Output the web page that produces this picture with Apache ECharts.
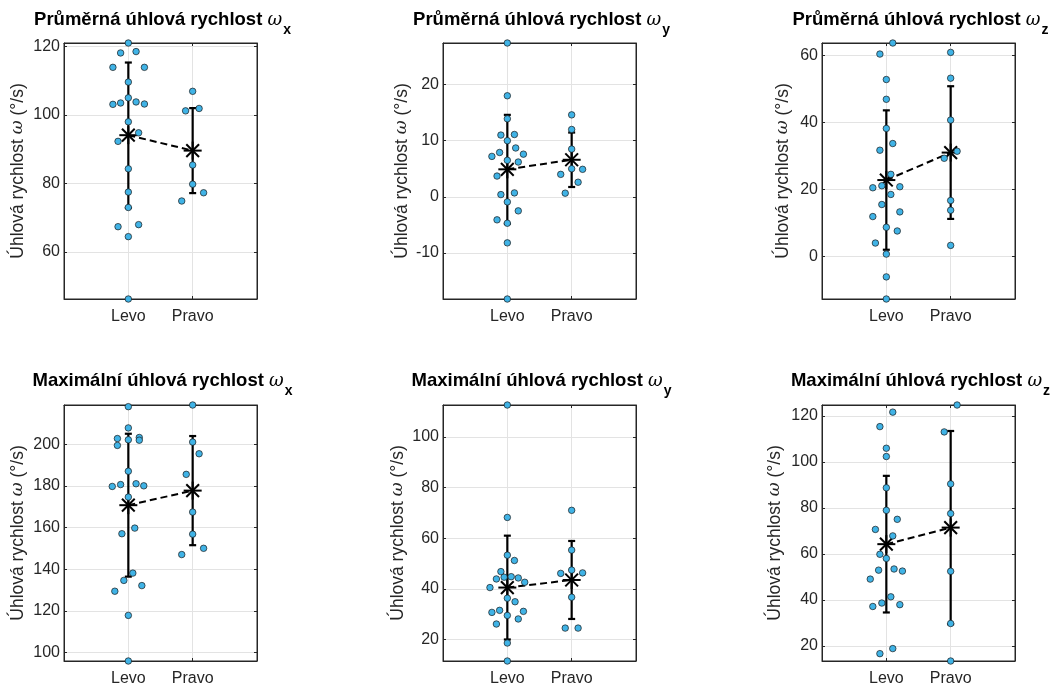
<!DOCTYPE html>
<html><head><meta charset="utf-8">
<script src="https://cdn.jsdelivr.net/npm/echarts@6/dist/echarts.min.js"></script>
<style>html,body{margin:0;padding:0;background:#fff}#c{width:1051px;height:688px}</style>
</head><body><div id="c"></div>
<script>
// ---------- DATA ----------
const categories = ['Levo', 'Pravo'];
const titleTexts = ['Průměrná úhlová rychlost ', 'Průměrná úhlová rychlost ', 'Průměrná úhlová rychlost ',
                    'Maximální úhlová rychlost ', 'Maximální úhlová rychlost ', 'Maximální úhlová rychlost '];
const titleSubs = ['x', 'y', 'z', 'x', 'y', 'z'];
const yName = 'Úhlová rychlost ';
const yUnit = ' (°/s)';

// Panel 1: Průměrná ωx
const p1LevoY  = [121.0,118.1,118.5,113.9,113.9,109.6,105.0,103.1,103.5,103.8,103.2,98.0,94.8,92.3,84.3,77.5,73.0,67.4,68.0,64.5,46.3];
const p1LevoDx = [0,-0.12,0.12,-0.24,0.25,0,0,-0.24,-0.12,0.12,0.25,0,0.16,-0.16,0,0,0,-0.16,0.16,0,0];
const p1PravoY  = [106.9,101.2,101.9,85.4,79.8,74.9,77.3];
const p1PravoDx = [0,-0.11,0.1,0,0,-0.17,0.17];
const p1Mean = [94.1, 89.6];
const p1Sd   = [21.2, 12.4];

// Panel 2: Průměrná ωy
const p2LevoY  = [27.4,18.0,13.9,11.0,11.1,10.0,8.7,7.9,7.2,7.6,6.5,6.2,3.7,0.4,0.7,-0.9,-2.5,-4.1,-4.7,-8.2,-18.2];
const p2LevoDx = [0,0,0,-0.1,0.11,0,0.13,-0.12,-0.24,0.25,0,0.17,-0.16,-0.1,0.11,0,0.17,-0.16,0,0,0];
const p2PravoY  = [14.6,12.0,8.5,5.0,4.0,4.9,2.6,0.65];
const p2PravoDx = [0,0,0,0,-0.17,0.17,0.1,-0.1];
const p2Mean = [4.9, 6.6];
const p2Sd   = [9.7, 4.85];

// Panel 3: Průměrná ωz
const p3LevoY  = [63.7,60.4,52.8,46.9,38.2,31.7,33.7,24.5,20.5,21.1,20.8,18.5,15.5,13.3,11.9,8.7,7.6,4.0,0.7,-6.1,-12.7];
const p3LevoDx = [0.1,-0.1,0,0,0,-0.1,0.1,0.07,-0.21,-0.07,0.21,0.07,-0.07,0.21,-0.21,0,0.17,-0.17,0,0,0];
const p3PravoY  = [60.9,53.2,40.7,29.3,31.4,16.7,13.8,3.3];
const p3PravoDx = [0,0,0,-0.1,0.1,0,0,0];
const p3Mean = [22.8, 31.0];
const p3Sd   = [20.8, 19.8];

// Panel 4: Maximální ωx
const p4LevoY  = [218.0,207.8,202.1,202.7,199.4,203.2,201.9,187.0,179.7,180.6,181.0,180.0,174.6,157.0,159.7,138.1,134.6,129.4,132.1,117.8,95.9];
const p4LevoDx = [0,0,0,-0.17,-0.17,0.17,0.17,0,-0.25,-0.12,0.12,0.24,0,-0.1,0.1,0.07,-0.07,-0.21,0.21,0,0];
const p4PravoY  = [218.8,201.0,195.4,185.5,167.4,156.8,147.0,150.0];
const p4PravoDx = [0,0,0.1,-0.1,0,0,-0.17,0.17];
const p4Mean = [170.7, 177.7];
const p4Sd   = [34.3, 26.2];

// Panel 5: Maximální ωy
const p5LevoY  = [112.6,68.2,53.3,51.2,46.8,43.9,44.6,44.8,44.3,42.6,40.5,36.3,34.9,31.5,30.7,31.1,29.5,26.1,28.1,18.6,11.5];
const p5LevoDx = [0,0,0,0.11,-0.1,-0.17,-0.05,0.06,0.17,0.27,-0.27,0,0.12,-0.12,-0.24,0.25,0,-0.17,0.17,0,0];
const p5PravoY  = [71.0,55.3,47.4,46.1,46.3,36.7,24.5,24.5];
const p5PravoDx = [0,0,0,-0.17,0.17,0,-0.1,0.1];
const p5Mean = [40.5, 43.5];
const p5Sd   = [20.5, 15.4];

// Panel 6: Maximální ωz
const p6LevoY  = [121.7,115.4,106.0,102.4,88.8,79.0,75.1,70.7,67.9,59.9,58.1,53.0,53.5,52.6,49.1,41.4,38.7,37.2,38.0,16.7,18.9];
const p6LevoDx = [0.1,-0.1,0,0,0,0,0.17,-0.17,0.1,-0.1,0,-0.12,0.12,0.25,-0.25,0.07,-0.07,-0.21,0.21,-0.1,0.1];
const p6PravoY  = [124.8,113.1,90.5,77.6,52.5,29.8,13.5];
const p6PravoDx = [0.1,-0.1,0,0,0,0,0];
const p6Mean = [64.3, 71.5];
const p6Sd   = [29.7, 42.0];

const panels = [
  {levoY:p1LevoY, levoDx:p1LevoDx, pravoY:p1PravoY, pravoDx:p1PravoDx, mean:p1Mean, sd:p1Sd},
  {levoY:p2LevoY, levoDx:p2LevoDx, pravoY:p2PravoY, pravoDx:p2PravoDx, mean:p2Mean, sd:p2Sd},
  {levoY:p3LevoY, levoDx:p3LevoDx, pravoY:p3PravoY, pravoDx:p3PravoDx, mean:p3Mean, sd:p3Sd},
  {levoY:p4LevoY, levoDx:p4LevoDx, pravoY:p4PravoY, pravoDx:p4PravoDx, mean:p4Mean, sd:p4Sd},
  {levoY:p5LevoY, levoDx:p5LevoDx, pravoY:p5PravoY, pravoDx:p5PravoDx, mean:p5Mean, sd:p5Sd},
  {levoY:p6LevoY, levoDx:p6LevoDx, pravoY:p6PravoY, pravoDx:p6PravoDx, mean:p6Mean, sd:p6Sd}
];

// ---------- LAYOUT ----------
const colLeft = [64, 443, 822];
const rowTop = [43, 405];
const titleTop = [10, 371];
const gridW = 193, gridH = 256;
const nameGaps = [37, 32, 30, 37, 36, 38];
const splitNumbers = [4, 4, 4, 6, 5, 5];

const FONT = 'Liberation Sans, Arial, Helvetica, sans-serif';
const AX = '#262626';
const GRIDC = '#e3e3e3';
const PT = '#40B3E6';

const chart = echarts.init(document.getElementById('c'), null, {renderer: 'canvas'});

const grid = [], xAxis = [], yAxis = [], series = [], title = [];

function errRender(params, api) {
  const x = api.value(0), m = api.value(1), s = api.value(2);
  const t = api.coord([x, m + s]), b = api.coord([x, m - s]);
  const cw = 3.5;
  const st = {stroke: '#000', lineWidth: 2.2};
  return {type: 'group', children: [
    {type: 'line', shape: {x1: t[0], y1: t[1], x2: b[0], y2: b[1]}, style: st},
    {type: 'line', shape: {x1: t[0] - cw, y1: t[1], x2: t[0] + cw, y2: t[1]}, style: st},
    {type: 'line', shape: {x1: b[0] - cw, y1: b[1], x2: b[0] + cw, y2: b[1]}, style: st}
  ]};
}
function starRender(params, api) {
  const c = api.coord([api.value(0), api.value(1)]);
  const r = 9, d = r * 0.7071;
  const st = {stroke: '#000', lineWidth: 2};
  return {type: 'group', children: [
    {type: 'line', shape: {x1: c[0] - r, y1: c[1], x2: c[0] + r, y2: c[1]}, style: st},
    {type: 'line', shape: {x1: c[0], y1: c[1] - r, x2: c[0], y2: c[1] + r}, style: st},
    {type: 'line', shape: {x1: c[0] - d, y1: c[1] - d, x2: c[0] + d, y2: c[1] + d}, style: st},
    {type: 'line', shape: {x1: c[0] - d, y1: c[1] + d, x2: c[0] + d, y2: c[1] - d}, style: st}
  ]};
}

panels.forEach((p, i) => {
  const col = i % 3, row = Math.floor(i / 3);
  const left = colLeft[col], top = rowTop[row];
  grid.push({left: left, top: top, width: gridW, height: gridH, show: true,
             borderColor: AX, borderWidth: 1, backgroundColor: '#fff', containLabel: false});
  const all = p.levoY.concat(p.pravoY);
  const ymin = Math.min.apply(null, all), ymax = Math.max.apply(null, all);

  // x axes (bottom + top)
  xAxis.push({gridIndex: i, type: 'value', min: 0, max: 3, interval: 1, position: 'bottom',
    axisLine: {show: true, onZero: false, lineStyle: {color: AX, width: 1}},
    axisTick: {show: true, inside: true, length: 3, lineStyle: {color: AX}},
    axisLabel: {fontSize: 16, color: AX, fontFamily: FONT, margin: 10,
      formatter: v => (v >= 1 && v <= categories.length && Number.isInteger(v)) ? categories[v - 1] : ''},
    splitLine: {show: true, lineStyle: {color: GRIDC, width: 1}}});
  xAxis.push({gridIndex: i, type: 'value', min: 0, max: 3, interval: 1, position: 'top',
    axisLine: {show: true, onZero: false, lineStyle: {color: AX, width: 1}},
    axisTick: {show: true, inside: true, length: 3, lineStyle: {color: AX}},
    axisLabel: {show: false}, splitLine: {show: false}});
  // y axes (left + right)
  yAxis.push({gridIndex: i, type: 'value', min: ymin, max: ymax, splitNumber: splitNumbers[i], position: 'left',
    axisLine: {show: true, onZero: false, lineStyle: {color: AX, width: 1}},
    axisTick: {show: true, inside: true, length: 3, lineStyle: {color: AX}},
    axisLabel: {fontSize: 16, color: AX, fontFamily: FONT, margin: 4, showMinLabel: false, showMaxLabel: false},
    splitLine: {show: true, lineStyle: {color: GRIDC, width: 1}},
    name: yName + '{w|ω}' + yUnit, nameLocation: 'middle', nameGap: nameGaps[i], nameRotate: 90,
    nameTextStyle: {fontSize: 17.5, color: AX, fontFamily: FONT,
      rich: {w: {fontSize: 17, fontStyle: 'italic', fontWeight: 'normal', fontFamily: 'DejaVu Serif', color: AX}}}});
  yAxis.push({gridIndex: i, type: 'value', min: ymin, max: ymax, splitNumber: splitNumbers[i], position: 'right',
    axisLine: {show: true, onZero: false, lineStyle: {color: AX, width: 1}},
    axisTick: {show: true, inside: true, length: 3, lineStyle: {color: AX}},
    axisLabel: {show: false}, splitLine: {show: false}});

  const xi = i * 2, yi = i * 2;
  series.push({type: 'custom', xAxisIndex: xi, yAxisIndex: yi, z: 2, renderItem: errRender,
    encode: {x: 0, y: 1}, clip: false,
    data: p.mean.map((m, k) => [k + 1, m, p.sd[k]])});
  series.push({type: 'line', xAxisIndex: xi, yAxisIndex: yi, z: 3, symbol: 'none', silent: true,
    lineStyle: {color: '#000', width: 2, type: [7, 4]},
    data: p.mean.map((m, k) => [k + 1, m])});
  series.push({type: 'custom', xAxisIndex: xi, yAxisIndex: yi, z: 4, renderItem: starRender,
    encode: {x: 0, y: 1}, clip: false,
    data: p.mean.map((m, k) => [k + 1, m])});
  const pts = p.levoY.map((v, k) => [1 + p.levoDx[k], v])
    .concat(p.pravoY.map((v, k) => [2 + p.pravoDx[k], v]));
  series.push({type: 'scatter', xAxisIndex: xi, yAxisIndex: yi, z: 5, symbolSize: 6.5, clip: false,
    itemStyle: {color: PT, borderColor: '#1a1a1a', borderWidth: 0.7, opacity: 1},
    data: pts});

  title.push({left: left + gridW / 2 + 2, top: titleTop[row], textAlign: 'center', padding: 0,
    text: '{t|' + titleTexts[i] + '}{w|ω}{s|' + titleSubs[i] + '}',
    textStyle: {fontWeight: 'normal', rich: {
      t: {fontSize: 18.5, fontWeight: 'bold', fontFamily: FONT, color: '#000', lineHeight: 20},
      w: {fontSize: 18, fontStyle: 'italic', fontWeight: 'normal', fontFamily: 'DejaVu Serif', color: '#000', lineHeight: 20},
      s: {fontSize: 14, fontWeight: 'bold', fontFamily: FONT, color: '#000', lineHeight: 14, padding: [20, 0, 0, 1]}
    }}});
});

chart.setOption({animation: false, backgroundColor: '#fff', title, grid, xAxis, yAxis, series});
</script>
</body></html>
